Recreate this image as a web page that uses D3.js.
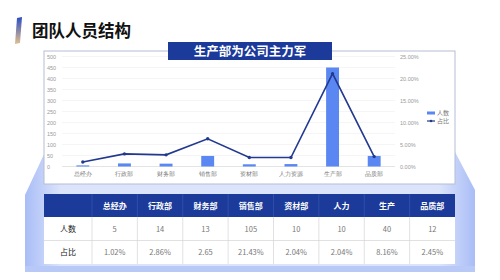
<!DOCTYPE html>
<html>
<head>
<meta charset="utf-8">
<title>团队人员结构</title>
<script src="https://d3js.org/d3.v7.min.js"></script>
<style>
  body { margin: 0; background: #fff; }
  svg { display: block; font-family: "Noto Sans CJK SC", "Noto Sans", sans-serif; }
</style>
</head>
<body>
<svg id="chart" width="500" height="280"></svg>
<script>
// chart data
var categories = ["总经办", "行政部", "财务部", "销售部", "资材部", "人力资源", "生产部", "品质部"];
var headcount = [5, 14, 13, 48, 10, 11, 450, 48];
var share = [0.0102, 0.0286, 0.0265, 0.063, 0.0204, 0.0204, 0.211, 0.0225];
var leftTicks = [0, 50, 100, 150, 200, 250, 300, 350, 400, 450, 500];
var rightTicks = [0, 0.05, 0.10, 0.15, 0.20, 0.25];

// table data
var tableHeads = ["总经办", "行政部", "财务部", "销售部", "资材部", "人力", "生产", "品质部"];
var rowLabels = ["人数", "占比"];
var rowCount = ["5", "14", "13", "105", "10", "10", "40", "12"];
var rowShare = ["1.02%", "2.86%", "2.65", "21.43%", "2.04%", "2.04%", "8.16%", "2.45%"];

var svg = d3.select("#chart");
var defs = svg.append("defs");

// gradients
var g1 = defs.append("linearGradient").attr("id", "icon").attr("x1", 0).attr("y1", 0).attr("x2", 0).attr("y2", 1);
g1.append("stop").attr("offset", "0%").attr("stop-color", "#2a4cc4");
g1.append("stop").attr("offset", "100%").attr("stop-color", "#e3c08e");

var g2 = defs.append("linearGradient").attr("id", "panel").attr("x1", 0).attr("y1", 0).attr("x2", 1).attr("y2", 0);
g2.append("stop").attr("offset", "0%").attr("stop-color", "#a9bdf6");
g2.append("stop").attr("offset", "8%").attr("stop-color", "#dce4fb");
g2.append("stop").attr("offset", "92%").attr("stop-color", "#dce4fb");
g2.append("stop").attr("offset", "100%").attr("stop-color", "#a9bdf6");

// page title
svg.append("path").attr("d", "M17,18 L22,17 L20,43 L15,44 Z").attr("fill", "url(#icon)");
svg.append("text").attr("x", 32).attr("y", 37).attr("font-size", 16.5).attr("font-weight", "bold")
  .attr("fill", "#111").text("团队人员结构");

// light blue panel behind the table
svg.append("path")
  .attr("d", "M25,195 L46,150 L454,150 L475,190 L475,272 L25,272 Z")
  .attr("fill", "url(#panel)");
svg.append("path").attr("d", "M25,266 L475,266 L475,272 L25,272 Z").attr("fill", "#b9c9f7");

// chart frame
var frame = { x: 44, y: 51, w: 411, h: 133 };
svg.append("rect").attr("x", frame.x).attr("y", frame.y).attr("width", frame.w).attr("height", frame.h)
  .attr("fill", "#fff").attr("stroke", "#b4bdd6").attr("stroke-width", 1);

// scales
var x = d3.scaleBand().domain(categories).range([62, 395]).paddingInner(0.69).paddingOuter(0.345);
var yL = d3.scaleLinear().domain([0, 500]).range([166.5, 56.5]);
var yR = d3.scaleLinear().domain([0, 0.25]).range([166.5, 56.5]);

// gridlines
svg.append("g").selectAll("line").data(leftTicks).join("line")
  .attr("x1", 62).attr("x2", 395)
  .attr("y1", function(d) { return yL(d); }).attr("y2", function(d) { return yL(d); })
  .attr("stroke", function(d) { return d === 0 ? "#d8d8d8" : "#f0f0f0"; }).attr("stroke-width", 0.7);

// left axis
var axL = svg.append("g").attr("transform", "translate(60,0)")
  .call(d3.axisLeft(yL).tickValues(leftTicks).tickSize(0).tickPadding(0).tickFormat(d3.format("d")));
axL.select(".domain").remove();
axL.selectAll("text").attr("x", -13).attr("text-anchor", "start").attr("font-size", 5.5).attr("fill", "#999");

// right axis
var axR = svg.append("g").attr("transform", "translate(400,0)")
  .call(d3.axisRight(yR).tickValues(rightTicks).tickSize(0).tickPadding(0).tickFormat(d3.format(".2%")));
axR.select(".domain").remove();
axR.selectAll("text").attr("font-size", 5.5).attr("fill", "#999");

// category labels
var axB = svg.append("g").attr("transform", "translate(0,172)")
  .call(d3.axisBottom(x).tickSize(0).tickPadding(0));
axB.select(".domain").remove();
axB.selectAll("text").attr("font-size", 5.5).attr("fill", "#777");

// bars
svg.append("g").selectAll("rect").data(categories).join("rect")
  .attr("x", function(d) { return x(d); })
  .attr("width", x.bandwidth())
  .attr("y", function(d, i) { return yL(headcount[i]); })
  .attr("height", function(d, i) { return yL(0) - yL(headcount[i]); })
  .attr("fill", "#5b87f2");

// line
var line = d3.line()
  .x(function(d, i) { return x(categories[i]) + x.bandwidth() / 2; })
  .y(function(d) { return yR(d); });
svg.append("path").datum(share).attr("d", line)
  .attr("fill", "none").attr("stroke", "#22398f").attr("stroke-width", 1.6);
svg.append("g").selectAll("circle").data(share).join("circle")
  .attr("cx", function(d, i) { return x(categories[i]) + x.bandwidth() / 2; })
  .attr("cy", function(d) { return yR(d); })
  .attr("r", 1.7).attr("fill", "#22398f");

// legend
var leg = svg.append("g").attr("font-size", 6).attr("fill", "#777");
leg.append("rect").attr("x", 427).attr("y", 111.5).attr("width", 8).attr("height", 3).attr("fill", "#5b87f2");
leg.append("text").attr("x", 437).attr("y", 115).text("人数");
leg.append("line").attr("x1", 427).attr("x2", 435).attr("y1", 121).attr("y2", 121)
  .attr("stroke", "#22398f").attr("stroke-width", 1.2);
leg.append("circle").attr("cx", 431).attr("cy", 121).attr("r", 1.3).attr("fill", "#22398f");
leg.append("text").attr("x", 437).attr("y", 123.2).text("占比");

// chart title box
svg.append("rect").attr("x", 168).attr("y", 42).attr("width", 164).attr("height", 18).attr("fill", "#1b3a9a");
svg.append("text").attr("x", 250).attr("y", 55.5).attr("text-anchor", "middle")
  .attr("font-size", 12.5).attr("font-weight", "bold").attr("fill", "#fff").text("生产部为公司主力军");

// table
var tbl = { x: 44, y: 194, w: 411, head: 23, row: 23.5, first: 48 };
var col = d3.scaleBand().domain(tableHeads).range([tbl.x + tbl.first, tbl.x + tbl.w]);
var rows = [rowCount, rowShare];
var tg = svg.append("g");

tg.append("rect").attr("x", tbl.x).attr("y", tbl.y).attr("width", tbl.w).attr("height", tbl.head).attr("fill", "#1b3a9a");
tg.append("rect").attr("x", tbl.x).attr("y", tbl.y + tbl.head).attr("width", tbl.w).attr("height", tbl.row * 2)
  .attr("fill", "#fff");

// header text and separators
tg.selectAll("text.h").data(tableHeads).join("text").attr("class", "h")
  .attr("x", function(d) { return col(d) + col.bandwidth() / 2; })
  .attr("y", tbl.y + tbl.head / 2 + 3)
  .attr("text-anchor", "middle").attr("font-size", 8).attr("font-weight", "bold").attr("fill", "#fff")
  .text(function(d) { return d; });
tg.selectAll("line.hs").data(tableHeads).join("line").attr("class", "hs")
  .attr("x1", function(d) { return col(d); }).attr("x2", function(d) { return col(d); })
  .attr("y1", tbl.y).attr("y2", tbl.y + tbl.head)
  .attr("stroke", "#3a57b0").attr("stroke-width", 0.7);

// body grid
tg.selectAll("line.vs").data(tableHeads).join("line").attr("class", "vs")
  .attr("x1", function(d) { return col(d); }).attr("x2", function(d) { return col(d); })
  .attr("y1", tbl.y + tbl.head).attr("y2", tbl.y + tbl.head + tbl.row * 2)
  .attr("stroke", "#d4d4d4").attr("stroke-width", 0.7);
tg.append("line").attr("x1", tbl.x).attr("x2", tbl.x + tbl.w)
  .attr("y1", tbl.y + tbl.head + tbl.row).attr("y2", tbl.y + tbl.head + tbl.row)
  .attr("stroke", "#d4d4d4").attr("stroke-width", 0.7);

rows.forEach(function(r, ri) {
  var cy = tbl.y + tbl.head + tbl.row * ri + tbl.row / 2 + 3;
  tg.append("text").attr("x", tbl.x + tbl.first / 2).attr("y", cy).attr("text-anchor", "middle")
    .attr("font-size", 8).attr("fill", "#222").text(rowLabels[ri]);
  tg.selectAll("text.v" + ri).data(r).join("text").attr("class", "v" + ri)
    .attr("x", function(d, i) { return col(tableHeads[i]) + col.bandwidth() / 2; })
    .attr("y", cy).attr("text-anchor", "middle").attr("font-size", 7.5).attr("fill", "#777")
    .text(function(d) { return d; });
});
</script>
</body>
</html>
